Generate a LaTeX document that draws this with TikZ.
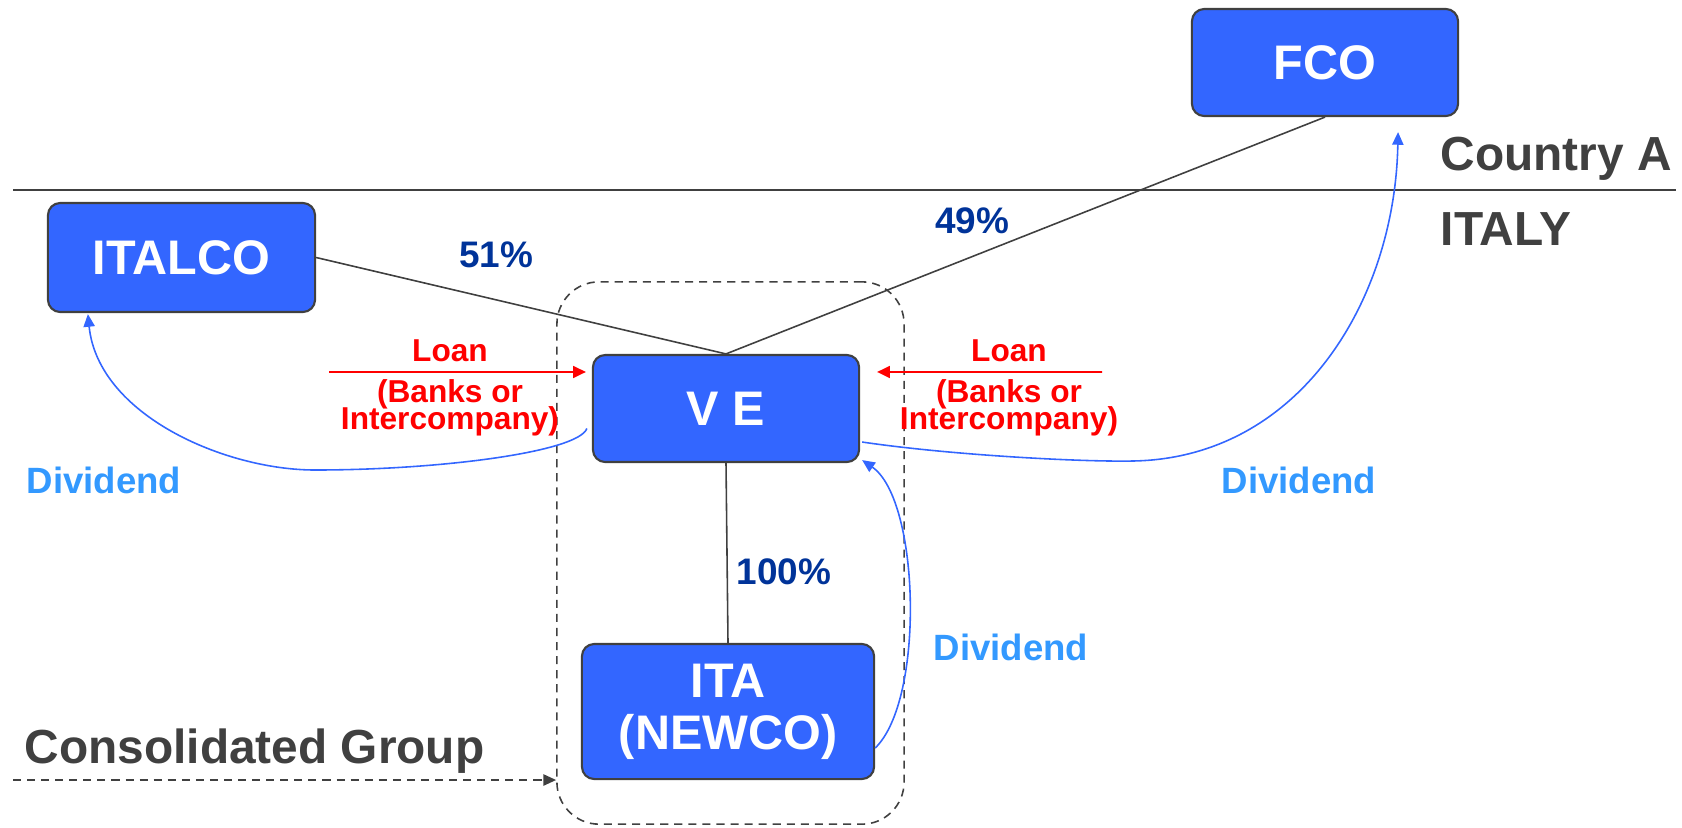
\documentclass[tikz,border=0pt]{standalone}
\usepackage{fontspec}
\setmainfont{Liberation Sans}
\usepackage{tikz}
\usetikzlibrary{arrows.meta, positioning}

\definecolor{boxblue}{HTML}{3366FF}
\definecolor{arcblue}{HTML}{3366FF}
\definecolor{divblue}{HTML}{3399FF}
\definecolor{pctblue}{HTML}{003399}
\definecolor{linegray}{HTML}{404040}

\tikzset{
  company/.style={draw=linegray, line width=0.6pt, fill=boxblue, rounded corners=3.5pt,
    minimum width=2.66cm, minimum height=1.07cm, inner sep=0pt, text=white, align=center,
    font=\fontsize{13.8}{14.8}\selectfont\bfseries},
  pct/.style={text=pctblue, inner sep=0pt, anchor=base, font=\fontsize{10.5}{12}\selectfont\bfseries},
  divtext/.style={text=divblue, inner sep=0pt, anchor=base west, font=\fontsize{10.4}{12}\selectfont\bfseries},
  loantext/.style={text=red, inner sep=0pt, anchor=base, font=\fontsize{9}{10}\selectfont\bfseries},
  region/.style={text=linegray, inner sep=0pt, anchor=base west, font=\fontsize{13.6}{15}\selectfont\bfseries},
  owns/.style={draw=linegray, line width=0.45pt},
  dividend/.style={draw=arcblue, line width=0.45pt, -{Triangle[length=3.6pt,width=3.2pt]}},
  loan/.style={draw=red, line width=0.45pt, -{Triangle[length=3.6pt,width=3.4pt]}},
  groupline/.style={draw=linegray, line width=0.45pt, dash pattern=on 2.3pt off 1.7pt},
}

\begin{document}
\begin{tikzpicture}[x=0.01cm, y=-0.01cm]
  \useasboundingbox (0,0) rectangle (1682,827);

  % border between the two countries
  \coordinate (borderL) at (13,190);
  \coordinate (borderR) at (1676,190);
  \draw[owns, line width=0.5pt] (borderL) -- (borderR);
  \node[region] (countryA) at (1440,170) {Country A};
  \node[region] (italy) at (1440,245) {ITALY};

  % consolidated group
  \node[groupline, rounded corners=12pt, minimum width=3.47cm, minimum height=5.42cm] (CG) at (730.5,553) {};
  \node[region] (cglabel) at (24,763) {Consolidated Group};
  \coordinate (cgstart) at (13,780);
  \draw[groupline, -{Triangle[length=3.6pt,width=3.2pt]}] (cgstart) -- (cgstart -| CG.west);

  % companies
  \node[company] (FCO) at (1325,62.5) {FCO};
  \node[company, minimum width=2.67cm, minimum height=1.09cm] (ITALCO) at (181.5,257.5) {ITALCO};
  \node[company] (VE) at (726,408.5) {V E};
  \node[company, minimum width=2.92cm, minimum height=1.35cm] (ITA) at (728,711.5) {ITA\\(NEWCO)};

  % shareholdings
  \draw[owns] (ITALCO.east) -- (VE.north);
  \draw[owns] (FCO.south) -- (VE.north);
  \draw[owns] (VE.south) -- (ITA.north);
  \node[pct] (p51) at (496,267) {51\%};
  \node[pct] (p49) at (972,233) {49\%};
  \node[pct] (p100) at (784,584) {100\%};

  % loans
  \coordinate (loanL) at (329,372);
  \coordinate (loanR) at (1102,372);
  \draw[loan] (loanL) -- ([xshift=-0.6mm,yshift=3.65mm]VE.west);
  \draw[loan] (loanR) -- ([xshift=1.7mm,yshift=3.65mm]VE.east);
  \node[loantext] (loanA) at (450,361) {Loan};
  \node[loantext] (loanB) at (450,402) {(Banks or};
  \node[loantext] (loanC) at (450,429) {Intercompany)};
  \node[loantext] (loanD) at (1009,361) {Loan};
  \node[loantext] (loanE) at (1009,402) {(Banks or};
  \node[loantext] (loanF) at (1009,429) {Intercompany)};

  % dividends
  \draw[dividend] ([xshift=-0.5mm,yshift=-2mm]VE.west)
    .. controls (578,452) and (440,470) .. (315,470)
    .. controls (225,470) and (98,415) .. ([xshift=4.1mm,yshift=-0.1mm]ITALCO.south west);
  \draw[dividend] ([xshift=0.2mm,yshift=-3.35mm]VE.east)
    .. controls (950,455) and (1080,462) .. (1133,461)
    .. controls (1300,458) and (1395,300) .. ([xshift=7.3mm,yshift=-1.5mm]FCO.south);
  \draw[dividend] ([yshift=-3.65mm]ITA.east)
    .. controls (925,700) and (920,500) .. ([xshift=0.2mm,yshift=0.3mm]VE.south east);
  \node[divtext] (divA) at (26,493) {Dividend};
  \node[divtext] (divB) at (1221,493) {Dividend};
  \node[divtext] (divC) at (933,660) {Dividend};

\end{tikzpicture}
\end{document}
